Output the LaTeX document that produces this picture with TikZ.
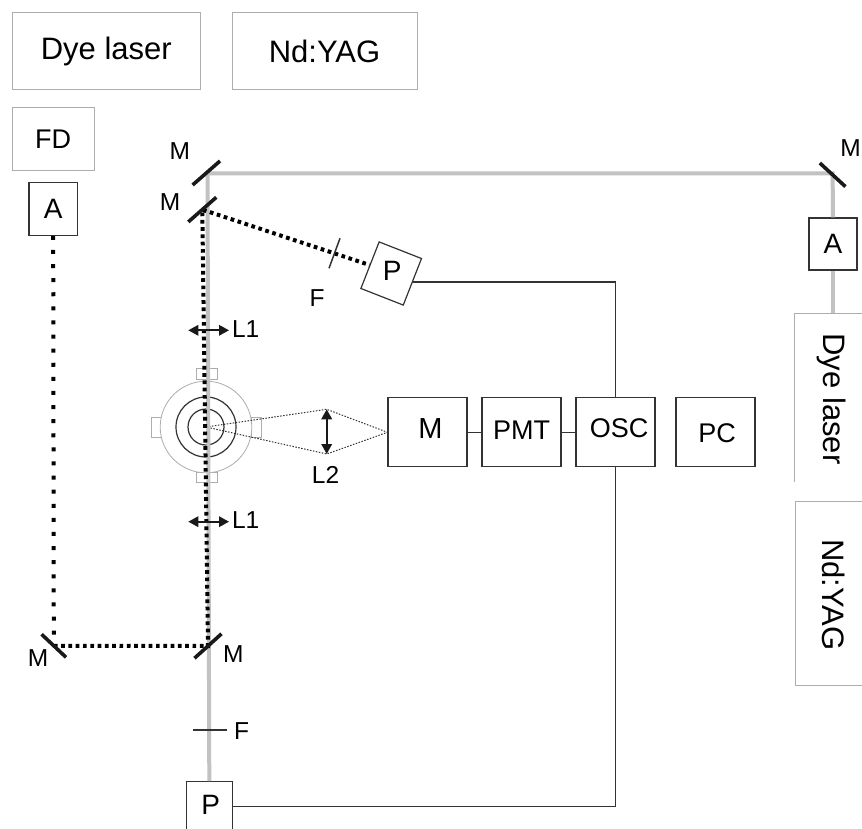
\documentclass[tikz,border=0pt]{standalone}
\usepackage{fontspec}
\setmainfont{Liberation Sans}
\usetikzlibrary{arrows.meta}
\definecolor{beamgray}{gray}{0.76}
\definecolor{edgegray}{gray}{0.68}
\definecolor{edgedark}{gray}{0.2}
\tikzset{
  bigbox/.style={draw=edgegray, line width=1pt, inner sep=0pt, text height=21.5pt, text depth=0pt, font=\fontsize{31}{31}\selectfont},
  unitbox/.style={draw=edgedark, line width=1.2pt, inner sep=0pt, text height=19.5pt, text depth=0pt, font=\fontsize{27}{27}\selectfont},
  lbl/.style={inner sep=0pt, text height=17.5pt, text depth=0pt, font=\fontsize{24.5}{24.5}\selectfont},
  sidetext/.style={anchor=base, rotate=-90, inner sep=0pt, font=\fontsize{31}{31}\selectfont},
  port/.style={draw=edgegray, line width=0.8pt, inner sep=0pt},
  beam/.style={draw=beamgray, line width=4pt},
  dye/.style={draw=black, line width=4pt, dash pattern=on 3.7pt off 3.6pt},
  dyesparse/.style={draw=black, line width=4pt, dash pattern=on 4pt off 10.1pt},
  fluor/.style={draw=edgedark, line width=1pt, dash pattern=on 1.5pt off 1.5pt},
  wire/.style={draw=edgedark, line width=1.1pt},
  mirror/.style={draw=black!90, line width=3.6pt},
  filt/.style={draw=edgedark, line width=1.5pt},
  lens/.style={{Triangle[length=10pt,width=10.5pt]}-{Triangle[length=10pt,width=10.5pt]}, draw=black!90, line width=1.7pt}
}
\begin{document}
\begin{tikzpicture}[x=1pt,y=-1pt]
  \path[use as bounding box, clip] (0,0) rectangle (862,829);

  \node[bigbox, minimum width=188.5pt, minimum height=77pt, text depth=6pt] (dyetop) at (106.3,51.5) {Dye laser};
  \node[bigbox, minimum width=185pt, minimum height=77pt] (yagtop) at (324.5,51.5) {Nd:YAG};
  \node[unitbox, draw=edgegray, line width=1pt, minimum width=82pt, minimum height=63.5pt] (fd) at (53,138.8) {FD};
  \node[unitbox, minimum width=48.5pt, minimum height=52.5pt, font=\fontsize{28}{28}\selectfont] (ampl) at (53.2,209) {A};
  \node[unitbox, minimum width=48pt, minimum height=52pt, font=\fontsize{28}{28}\selectfont] (ampr) at (833,244) {A};

  \node[unitbox, minimum width=79pt, minimum height=69pt, font=\fontsize{29}{29}\selectfont, text depth=7pt] (mono) at (427.5,432.3) {\hspace{6pt}M};
  \node[unitbox, minimum width=79pt, minimum height=69pt, text depth=6pt] (pmt) at (521.5,432.3) {PMT};
  \node[unitbox, minimum width=79pt, minimum height=69pt, text depth=10pt] (osc) at (615.5,432.3) {\hspace{7pt}OSC};
  \node[unitbox, minimum width=79pt, minimum height=69pt] (pc) at (715.5,432.3) {\hspace{3pt}PC};

  \node[unitbox, minimum width=45.5pt, minimum height=50pt, rotate=-21.4, font=\fontsize{28}{28}\selectfont] (pdettop) at (391.2,273.5) {\rotatebox{21.4}{P}};
  \node[unitbox, minimum width=46pt, minimum height=50pt, font=\fontsize{28}{28}\selectfont, text depth=4pt] (pdetbot) at (209.3,806.7) {\hspace{3pt}P};

  \draw[draw=edgegray, line width=1pt] (870,313) -- (794,313) -- (794,481.5);
  \draw[draw=edgegray, line width=1pt] (870,501) -- (795,501) -- (795,685.7) -- (870,685.7);
  \coordinate (dyeside) at (833,313);
  \node[sidetext] (dyeright) at (823.8,399) {Dye laser};
  \node[sidetext] (yagright) at (822,595) {Nd:YAG};

  \coordinate (ma) at (207.5,173.3);
  \coordinate (mb) at (202.3,209.6);
  \coordinate (mc) at (208,646);
  \coordinate (md) at (53.8,645.8);
  \coordinate (me) at (832.6,173.3);
  \coordinate (cellc) at (206,427);
  \coordinate (lensup) at (326.7,409.3);
  \coordinate (lensdn) at (326.7,454);

  \node[port, minimum width=20.6pt, minimum height=11pt] (portn) at (207,373.8) {};
  \node[port, minimum width=20.6pt, minimum height=10pt] (ports) at (207,477.7) {};
  \node[port, minimum width=10pt, minimum height=20pt] (portw) at (156,427.3) {};
  \node[port, minimum width=10pt, minimum height=20pt] (porte) at (256.7,427.3) {};
  \draw[draw=edgegray, line width=0.8pt, fill=white] (cellc) circle (45.8);
  \draw[draw=edgedark, line width=1.2pt] (cellc) circle (30);
  \draw[draw=edgedark, line width=1.2pt] (cellc) circle (18);

  \draw[fluor] (cellc) -- (lensup) -- (mono.west) -- (lensdn) -- (cellc);
  \draw[beam] (pdetbot.north) -- (ma) -- (me) -- (ampr.north);
  \draw[beam] (ampr.south) -- (dyeside);
  \draw[dyesparse] (ampl.south) -- (md);
  \draw[dye] (md) -- (mc) -- (mb) -- (pdettop.west);

  \draw[mirror] (206.3,173) +(-13.7,12) -- +(13.7,-12);
  \draw[mirror] (mb) +(-14,12.3) -- +(14,-12.3);
  \draw[mirror] (mc) +(-13.5,12.2) -- +(13.5,-12.2);
  \draw[mirror] (md) +(-12.2,-11.5) -- +(12.2,11.5);
  \draw[mirror] (me) +(-12.8,-10.3) -- +(12.8,13.3);

  \draw[filt] (340,238.3) -- (329,268.3);
  \draw[filt] (193.3,730) -- (227.3,730);

  \draw[lens] (188.3,330.3) -- (229,330.3);
  \draw[lens] (188.3,521.7) -- (229,521.7);
  \draw[lens, line width=2pt] (lensup) -- (lensdn);

  \draw[wire] (mono.east) -- (pmt.west);
  \draw[wire] (pmt.east) -- (osc.west);
  \draw[wire] (pdettop.east) -| (osc.north);
  \draw[wire] (pdetbot.east) -| (osc.south);

  \node[lbl] (lma) at (179.8,150.5) {M};
  \node[lbl] (lmb) at (170,202) {M};
  \node[lbl] (lme) at (850.5,148) {M};
  \node[lbl] (lmd) at (38,658) {M};
  \node[lbl] (lmc) at (233.3,653.5) {M};
  \node[lbl] (lfa) at (317,298) {F};
  \node[lbl] (lfb) at (241.5,730.5) {F};
  \node[lbl] (llone) at (245.7,329) {L1};
  \node[lbl] (lltwo) at (245.7,519.5) {L1};
  \node[lbl] (lltre) at (325.5,474.5) {L2};
\end{tikzpicture}
\end{document}
